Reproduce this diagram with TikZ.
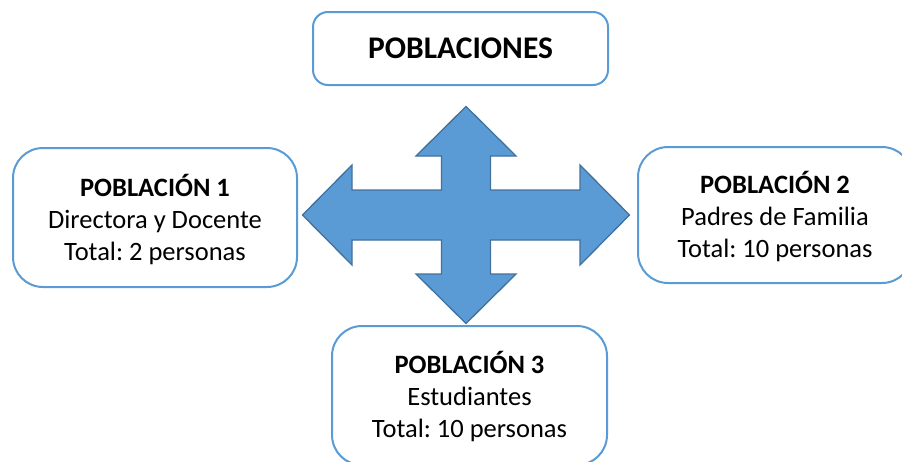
\documentclass[tikz,border=0pt]{standalone}
\usepackage{fontspec}
\setmainfont{Carlito}
\frenchspacing
\definecolor{boxblue}{HTML}{5B9BD5}
\definecolor{arrowedge}{HTML}{41719C}
\newcommand{\popstrut}[1]{\rule{0pt}{#1}}
\newcommand{\popdeep}{\rule[-8pt]{0pt}{8pt}}
\begin{document}
\begin{tikzpicture}[x=1pt,y=-1pt,
  popbox/.style={draw=boxblue,line width=2pt,fill=white,rounded corners=#1,
    align=center,inner sep=0pt,font=\fontsize{26.5}{32}\selectfont},
  cross/.style={fill=boxblue,draw=arrowedge,line width=1.3pt,line join=miter}]
\useasboundingbox (0,0) rectangle (902,461);
\clip (0,0) rectangle (902,461);
% title box
\node[popbox=15pt,minimum width=295pt,minimum height=73pt,font=\fontsize{31.5}{36}\selectfont\bfseries]
  (title) at (460.5,48.5) {\rule[-1.5pt]{0pt}{1.5pt}POBLACIONES};
% cross arrow
\coordinate (c) at (466,215);
\draw[cross] (466,106.5) -- (516,156) -- (490.5,156) -- (490.5,190) -- (580,190) -- (580,165)
  -- (629.5,215) -- (580,265) -- (580,240) -- (490.5,240) -- (490.5,274) -- (516,274)
  -- (466,323.5) -- (416,274) -- (441.5,274) -- (441.5,240) -- (352,240) -- (352,265)
  -- (302.5,215) -- (352,165) -- (352,190) -- (441.5,190) -- (441.5,156) -- (416,156) -- cycle;
% population boxes
\node[popbox=30pt,minimum width=284pt,minimum height=139pt] (p1) at (155,217.5)
  {\popstrut{30.4pt}\textbf{POBLACIÓN 1}\\Directora y Docente\\Total: 2 personas\popdeep};
\node[popbox=30pt,minimum width=274pt,minimum height=136pt] (p2) at (775,215)
  {\popstrut{28.6pt}\textbf{POBLACIÓN 2}\\Padres de Familia\\Total: 10 personas\popdeep};
\node[popbox=30pt,minimum width=275pt,minimum height=139pt] (p3) at (469.5,395.5)
  {\popstrut{27pt}\textbf{POBLACIÓN 3}\\Estudiantes\\Total: 10 personas\popdeep};
\end{tikzpicture}
\end{document}
